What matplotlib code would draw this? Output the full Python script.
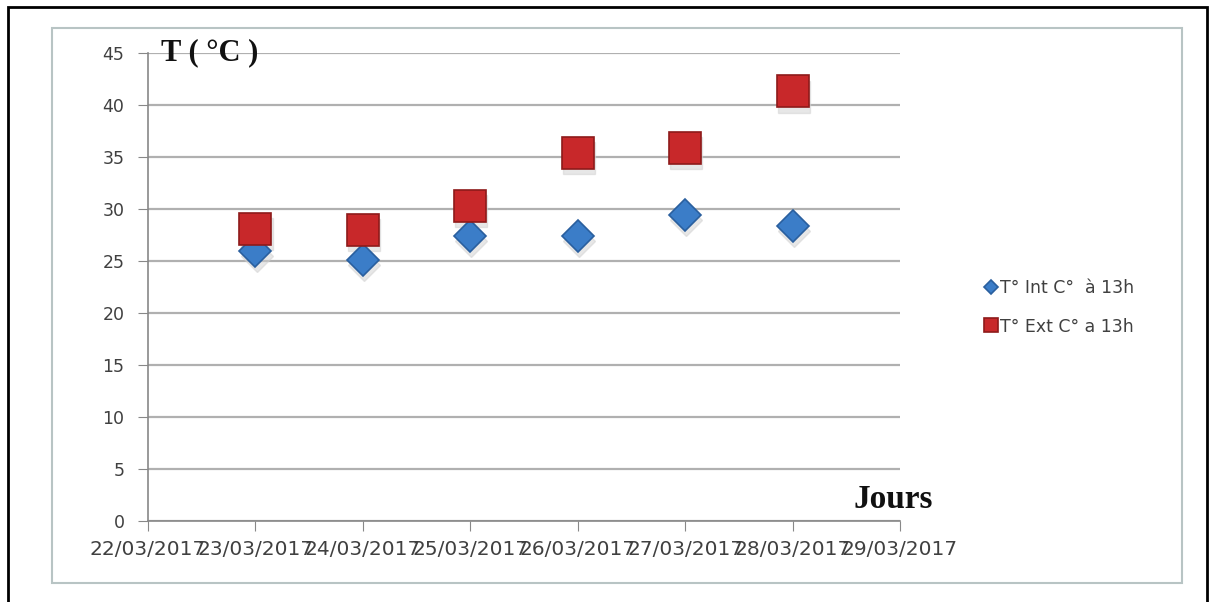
import matplotlib.pyplot as plt
from matplotlib.patches import Rectangle

# Data
dates = ['22/03/2017', '23/03/2017', '24/03/2017', '25/03/2017',
         '26/03/2017', '27/03/2017', '28/03/2017', '29/03/2017']
point_days = [1, 2, 3, 4, 5, 6]
t_int = [26.0, 25.1, 27.4, 27.4, 29.4, 28.4]
t_ext = [28.1, 28.0, 30.3, 35.4, 35.9, 41.3]
y_ticks = [0, 5, 10, 15, 20, 25, 30, 35, 40, 45]

W, H = 1213, 602
fig = plt.figure(figsize=(W / 100, H / 100), dpi=100)

# outer black frame and inner chart area frame
fig.patches.append(Rectangle((8 / W, -0.01), (1207 - 8) / W, 1.01 - 7 / H,
                             transform=fig.transFigure, fill=False,
                             edgecolor='black', linewidth=2))
fig.patches.append(Rectangle((52 / W, 1 - 583 / H), (1182 - 52) / W, (583 - 28) / H,
                             transform=fig.transFigure, fill=False,
                             edgecolor='#b8c4c4', linewidth=1.5))

ax = fig.add_axes([148 / W, 1 - 521 / H, (900 - 148) / W, (521 - 53) / H])
ax.set_xlim(0, 7)
ax.set_ylim(0, 45)

ax.set_yticks(y_ticks)
ax.set_yticklabels([str(v) for v in y_ticks], fontsize=12.5, color='#404040')
ax.set_xticks(range(len(dates)))
ax.set_xticklabels(dates, fontsize=14.5, color='#404040')
ax.tick_params(axis='y', length=7, color='#888888', pad=10)
ax.tick_params(axis='x', length=7, color='#888888', pad=7)
ax.grid(axis='y', color='#b0b0b0', linewidth=1.6)
ax.set_axisbelow(True)
for side in ['top', 'right']:
    ax.spines[side].set_visible(False)
for side in ['left', 'bottom']:
    ax.spines[side].set_color('#888888')
    ax.spines[side].set_linewidth(1.2)

# soft shadows under the markers
ax.plot([d + 0.01 for d in point_days], [v - 0.5 for v in t_int], 'D', ms=16,
        color='#d0d0d0', alpha=0.5, linestyle='none', zorder=2)
ax.plot([d + 0.01 for d in point_days], [v - 0.5 for v in t_ext], 's', ms=23,
        color='#d0d0d0', alpha=0.5, linestyle='none', zorder=2)

ax.plot(point_days, t_int, 'D', ms=16, color='#3b7dc8', markeredgecolor='#2a5f9e',
        markeredgewidth=1.2, linestyle='none', zorder=3, label='T° Int C°  à 13h')
ax.plot(point_days, t_ext, 's', ms=23, color='#c8282a', markeredgecolor='#8e1a1a',
        markeredgewidth=1.2, linestyle='none', zorder=4, label='T° Ext C° a 13h')

leg = ax.legend(loc='center left', bbox_to_anchor=(1.094, 0.457), frameon=False,
                fontsize=12.5, handlelength=0.5, handletextpad=0.3,
                labelspacing=1.2, markerscale=0.42)
for t in leg.get_texts():
    t.set_color('#404040')

ax.text(0.12, 45, 'T ( °C )', fontsize=22, fontweight='bold',
        family='Liberation Serif', va='center', ha='left', color='#111111')
ax.text(6.94, 2.1, 'Jours', fontsize=24, fontweight='bold',
        family='Liberation Serif', va='center', ha='center', color='#111111')

fig.savefig('out.png', dpi=100)
